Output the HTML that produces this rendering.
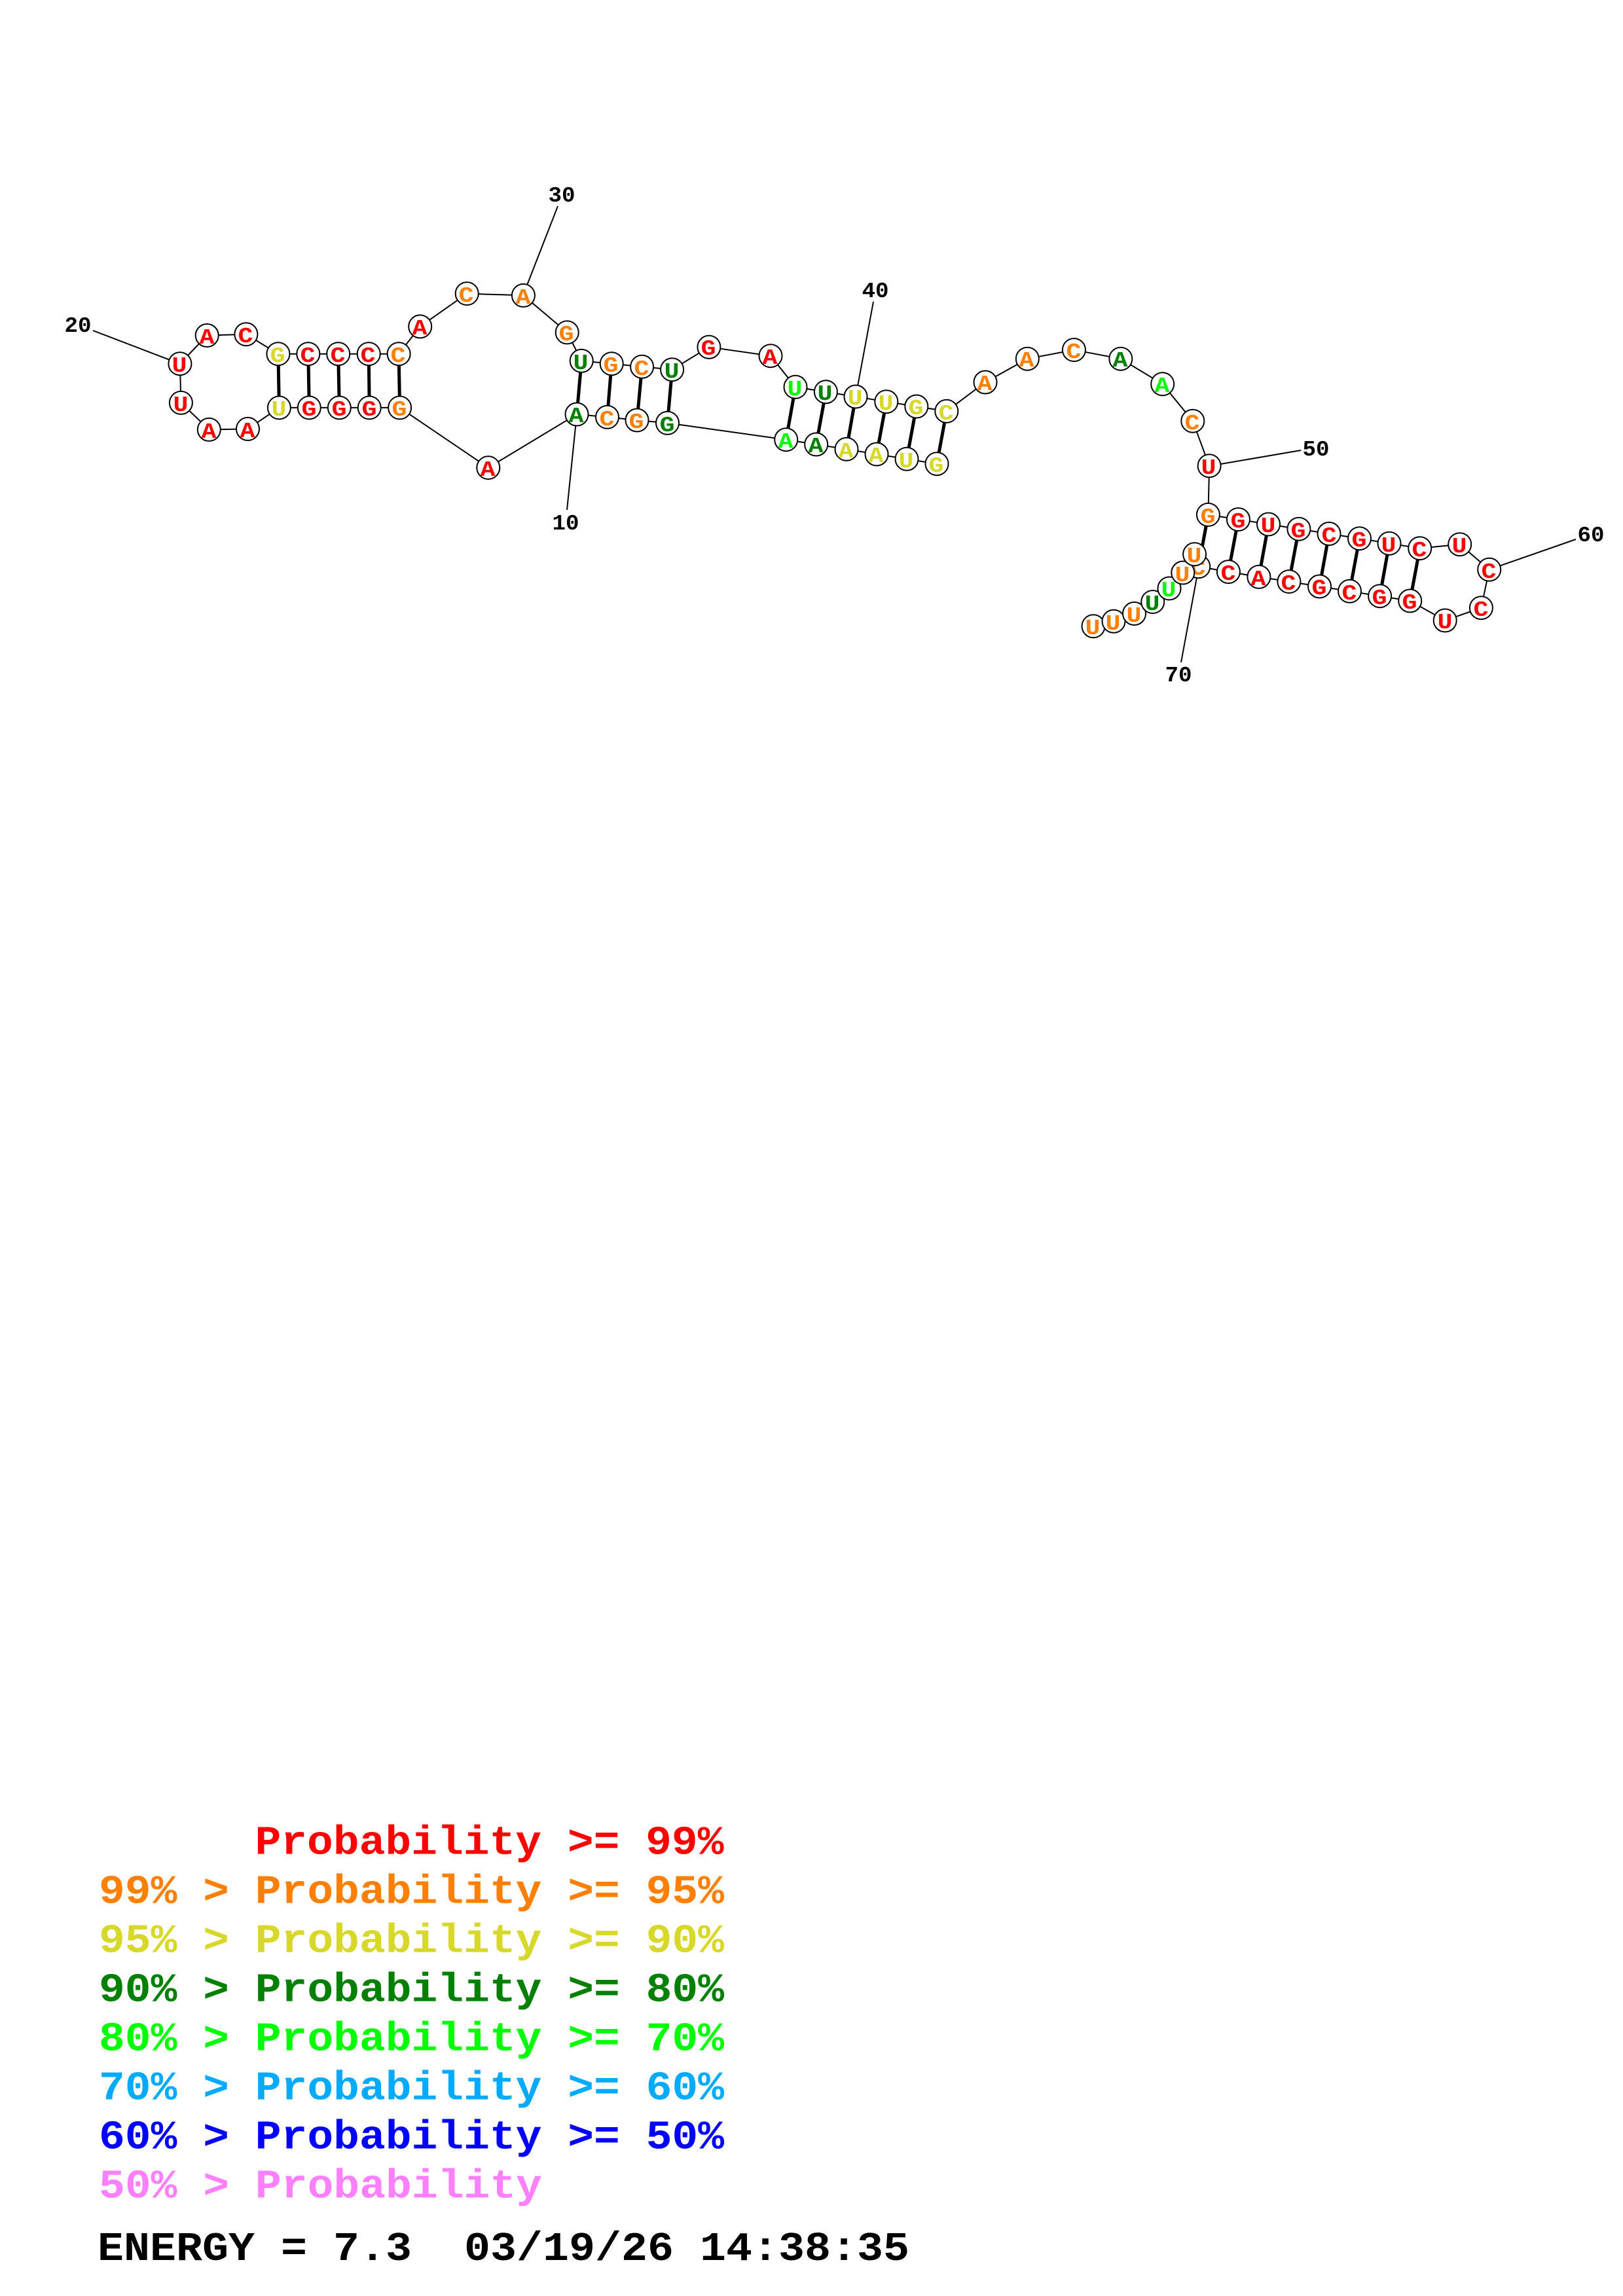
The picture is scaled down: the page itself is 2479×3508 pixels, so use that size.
<!DOCTYPE html>
<html><head><meta charset="utf-8"><title>RNA structure</title>
<style>
html,body{margin:0;padding:0;background:#fff}
svg{display:block}
.n text{font:bold 33px "Liberation Mono",monospace;text-anchor:middle}
.n circle{fill:#fff;stroke:#000;stroke-width:2}
.l{font:bold 33px "Liberation Mono",monospace;text-anchor:middle;fill:#000}
.t{font:bold 62px "Liberation Mono",monospace;white-space:pre}
.r{fill:#f00}.o{fill:#ff8000}.y{fill:#d8d82a}.g{fill:#008000}.c{fill:#00aaff}.b{fill:#00f}.p{fill:#ff80ff}.v{fill:#0f0}
.k line{stroke:#000;stroke-width:5}
.j line{stroke:#000;stroke-width:2}
</style></head><body>
<svg xmlns="http://www.w3.org/2000/svg" width="2479" height="3508" viewBox="0 0 2479 3508">
<rect width="2479" height="3508" fill="#fff"/>
<g class="j">
<line x1="142" y1="505" x2="275" y2="556"/>
<line x1="852" y1="315" x2="799" y2="451"/>
<line x1="866" y1="779" x2="881" y2="633"/>
<line x1="1334" y1="461" x2="1307" y2="606"/>
<line x1="1987" y1="688" x2="1847" y2="712"/>
<line x1="2407" y1="824" x2="2275" y2="870"/>
<line x1="1804" y1="1012" x2="1831" y2="866"/>
</g>
<polyline fill="none" stroke="#000" stroke-width="2" points="1431,708.7 1385,701.3 1339,694 1293,686.3 1246.7,679 1200.7,671.7 1019.5,646.3 973,642 927.5,637.3 881,633 745.8,714.6 610.6,622.9 564.2,622.9 518.3,622.9 472.3,622.9 426.4,622.9 378.5,655.4 319.3,656.4 276.4,615.4 274.9,555.7 316.2,512.5 375.9,510.7 424.9,540.7 470.8,540.7 516.7,540.7 563.2,540.7 609.1,540.7 641.7,498.9 713.2,448.6 799.4,451.4 866.2,507.9 888.2,551.3 934.2,555.7 980.6,560.3 1026.6,564.7 1082.9,530.3 1177,543.7 1215,591.3 1261.4,598.7 1307,606 1353.8,613.7 1399.8,621 1445.8,628.3 1505,584 1569.3,548.2 1640.4,534.6 1711.8,548.2 1775.7,586.8 1821.8,643.2 1847.1,711.8 1845.4,786.4 1891.4,793.6 1937.5,801 1983.9,808.2 2030,815.5 2076.5,822.7 2122,830.3 2168.7,837.7 2229.7,831.7 2274.7,870.3 2262.4,928.7 2207.2,948 2153.7,918 2107.6,910.7 2061.5,903.3 2015.5,896 1968.9,888.6 1922.9,881.4 1876.4,873.6 1830.7,865.7 1824.6,846.8 1806.8,875 1786,899 1760.7,919.6 1732.5,937.5 1701,949.3 1670,956.8"/>
<g class="k">
<line x1="1431" y1="708.7" x2="1445.8" y2="628.3"/>
<line x1="1385" y1="701.3" x2="1399.8" y2="621"/>
<line x1="1339" y1="694" x2="1353.8" y2="613.7"/>
<line x1="1293" y1="686.3" x2="1307" y2="606"/>
<line x1="1246.7" y1="679" x2="1261.4" y2="598.7"/>
<line x1="1200.7" y1="671.7" x2="1215" y2="591.3"/>
<line x1="1019.5" y1="646.3" x2="1026.6" y2="564.7"/>
<line x1="973" y1="642" x2="980.6" y2="560.3"/>
<line x1="927.5" y1="637.3" x2="934.2" y2="555.7"/>
<line x1="881" y1="633" x2="888.2" y2="551.3"/>
<line x1="610.6" y1="622.9" x2="609.1" y2="540.7"/>
<line x1="564.2" y1="622.9" x2="563.2" y2="540.7"/>
<line x1="518.3" y1="622.9" x2="516.7" y2="540.7"/>
<line x1="472.3" y1="622.9" x2="470.8" y2="540.7"/>
<line x1="426.4" y1="622.9" x2="424.9" y2="540.7"/>
<line x1="1845.4" y1="786.4" x2="1830.7" y2="865.7"/>
<line x1="1891.4" y1="793.6" x2="1876.4" y2="873.6"/>
<line x1="1937.5" y1="801" x2="1922.9" y2="881.4"/>
<line x1="1983.9" y1="808.2" x2="1968.9" y2="888.6"/>
<line x1="2030" y1="815.5" x2="2015.5" y2="896"/>
<line x1="2076.5" y1="822.7" x2="2061.5" y2="903.3"/>
<line x1="2122" y1="830.3" x2="2107.6" y2="910.7"/>
<line x1="2168.7" y1="837.7" x2="2153.7" y2="918"/>
</g>
<g class="n">
<circle cx="1431" cy="708.7" r="17.5"/><text textLength="23" lengthAdjust="spacingAndGlyphs" x="1430" y="721" class="y">G</text>
<circle cx="1385" cy="701.3" r="17.5"/><text textLength="23" lengthAdjust="spacingAndGlyphs" x="1384" y="714" class="y">U</text>
<circle cx="1339" cy="694" r="17.5"/><text textLength="23" lengthAdjust="spacingAndGlyphs" x="1338" y="706" class="y">A</text>
<circle cx="1293" cy="686.3" r="17.5"/><text textLength="23" lengthAdjust="spacingAndGlyphs" x="1292" y="699" class="y">A</text>
<circle cx="1246.7" cy="679" r="17.5"/><text textLength="23" lengthAdjust="spacingAndGlyphs" x="1246" y="691" class="g">A</text>
<circle cx="1200.7" cy="671.7" r="17.5"/><text textLength="23" lengthAdjust="spacingAndGlyphs" x="1200" y="684" class="v">A</text>
<circle cx="1019.5" cy="646.3" r="17.5"/><text textLength="23" lengthAdjust="spacingAndGlyphs" x="1019" y="659" class="g">G</text>
<circle cx="973" cy="642" r="17.5"/><text textLength="23" lengthAdjust="spacingAndGlyphs" x="972" y="654" class="o">G</text>
<circle cx="927.5" cy="637.3" r="17.5"/><text textLength="23" lengthAdjust="spacingAndGlyphs" x="927" y="650" class="o">C</text>
<circle cx="881" cy="633" r="17.5"/><text textLength="23" lengthAdjust="spacingAndGlyphs" x="880" y="645" class="g">A</text>
<circle cx="745.8" cy="714.6" r="17.5"/><text textLength="23" lengthAdjust="spacingAndGlyphs" x="745" y="727" class="r">A</text>
<circle cx="610.6" cy="622.9" r="17.5"/><text textLength="23" lengthAdjust="spacingAndGlyphs" x="610" y="635" class="o">G</text>
<circle cx="564.2" cy="622.9" r="17.5"/><text textLength="23" lengthAdjust="spacingAndGlyphs" x="564" y="635" class="r">G</text>
<circle cx="518.3" cy="622.9" r="17.5"/><text textLength="23" lengthAdjust="spacingAndGlyphs" x="518" y="635" class="r">G</text>
<circle cx="472.3" cy="622.9" r="17.5"/><text textLength="23" lengthAdjust="spacingAndGlyphs" x="472" y="635" class="r">G</text>
<circle cx="426.4" cy="622.9" r="17.5"/><text textLength="23" lengthAdjust="spacingAndGlyphs" x="426" y="635" class="y">U</text>
<circle cx="378.5" cy="655.4" r="17.5"/><text textLength="23" lengthAdjust="spacingAndGlyphs" x="378" y="668" class="r">A</text>
<circle cx="319.3" cy="656.4" r="17.5"/><text textLength="23" lengthAdjust="spacingAndGlyphs" x="319" y="669" class="r">A</text>
<circle cx="276.4" cy="615.4" r="17.5"/><text textLength="23" lengthAdjust="spacingAndGlyphs" x="276" y="628" class="r">U</text>
<circle cx="274.9" cy="555.7" r="17.5"/><text textLength="23" lengthAdjust="spacingAndGlyphs" x="274" y="568" class="r">U</text>
<circle cx="316.2" cy="512.5" r="17.5"/><text textLength="23" lengthAdjust="spacingAndGlyphs" x="316" y="525" class="r">A</text>
<circle cx="375.9" cy="510.7" r="17.5"/><text textLength="23" lengthAdjust="spacingAndGlyphs" x="375" y="523" class="r">C</text>
<circle cx="424.9" cy="540.7" r="17.5"/><text textLength="23" lengthAdjust="spacingAndGlyphs" x="424" y="553" class="y">G</text>
<circle cx="470.8" cy="540.7" r="17.5"/><text textLength="23" lengthAdjust="spacingAndGlyphs" x="470" y="553" class="r">C</text>
<circle cx="516.7" cy="540.7" r="17.5"/><text textLength="23" lengthAdjust="spacingAndGlyphs" x="516" y="553" class="r">C</text>
<circle cx="563.2" cy="540.7" r="17.5"/><text textLength="23" lengthAdjust="spacingAndGlyphs" x="562" y="553" class="r">C</text>
<circle cx="609.1" cy="540.7" r="17.5"/><text textLength="23" lengthAdjust="spacingAndGlyphs" x="608" y="553" class="o">C</text>
<circle cx="641.7" cy="498.9" r="17.5"/><text textLength="23" lengthAdjust="spacingAndGlyphs" x="641" y="511" class="r">A</text>
<circle cx="713.2" cy="448.6" r="17.5"/><text textLength="23" lengthAdjust="spacingAndGlyphs" x="712" y="461" class="o">C</text>
<circle cx="799.4" cy="451.4" r="17.5"/><text textLength="23" lengthAdjust="spacingAndGlyphs" x="799" y="464" class="o">A</text>
<circle cx="866.2" cy="507.9" r="17.5"/><text textLength="23" lengthAdjust="spacingAndGlyphs" x="865" y="520" class="o">G</text>
<circle cx="888.2" cy="551.3" r="17.5"/><text textLength="23" lengthAdjust="spacingAndGlyphs" x="887" y="564" class="g">U</text>
<circle cx="934.2" cy="555.7" r="17.5"/><text textLength="23" lengthAdjust="spacingAndGlyphs" x="933" y="568" class="o">G</text>
<circle cx="980.6" cy="560.3" r="17.5"/><text textLength="23" lengthAdjust="spacingAndGlyphs" x="980" y="573" class="o">C</text>
<circle cx="1026.6" cy="564.7" r="17.5"/><text textLength="23" lengthAdjust="spacingAndGlyphs" x="1026" y="577" class="g">U</text>
<circle cx="1082.9" cy="530.3" r="17.5"/><text textLength="23" lengthAdjust="spacingAndGlyphs" x="1082" y="542" class="r">G</text>
<circle cx="1177" cy="543.7" r="17.5"/><text textLength="23" lengthAdjust="spacingAndGlyphs" x="1176" y="556" class="r">A</text>
<circle cx="1215" cy="591.3" r="17.5"/><text textLength="23" lengthAdjust="spacingAndGlyphs" x="1214" y="604" class="v">U</text>
<circle cx="1261.4" cy="598.7" r="17.5"/><text textLength="23" lengthAdjust="spacingAndGlyphs" x="1260" y="611" class="g">U</text>
<circle cx="1307" cy="606" r="17.5"/><text textLength="23" lengthAdjust="spacingAndGlyphs" x="1306" y="618" class="y">U</text>
<circle cx="1353.8" cy="613.7" r="17.5"/><text textLength="23" lengthAdjust="spacingAndGlyphs" x="1353" y="626" class="y">U</text>
<circle cx="1399.8" cy="621" r="17.5"/><text textLength="23" lengthAdjust="spacingAndGlyphs" x="1399" y="633" class="y">G</text>
<circle cx="1445.8" cy="628.3" r="17.5"/><text textLength="23" lengthAdjust="spacingAndGlyphs" x="1445" y="641" class="y">C</text>
<circle cx="1505" cy="584" r="17.5"/><text textLength="23" lengthAdjust="spacingAndGlyphs" x="1504" y="596" class="o">A</text>
<circle cx="1569.3" cy="548.2" r="17.5"/><text textLength="23" lengthAdjust="spacingAndGlyphs" x="1568" y="560" class="o">A</text>
<circle cx="1640.4" cy="534.6" r="17.5"/><text textLength="23" lengthAdjust="spacingAndGlyphs" x="1640" y="547" class="o">C</text>
<circle cx="1711.8" cy="548.2" r="17.5"/><text textLength="23" lengthAdjust="spacingAndGlyphs" x="1711" y="560" class="g">A</text>
<circle cx="1775.7" cy="586.8" r="17.5"/><text textLength="23" lengthAdjust="spacingAndGlyphs" x="1775" y="599" class="v">A</text>
<circle cx="1821.8" cy="643.2" r="17.5"/><text textLength="23" lengthAdjust="spacingAndGlyphs" x="1821" y="656" class="o">C</text>
<circle cx="1847.1" cy="711.8" r="17.5"/><text textLength="23" lengthAdjust="spacingAndGlyphs" x="1846" y="724" class="r">U</text>
<circle cx="1845.4" cy="786.4" r="17.5"/><text textLength="23" lengthAdjust="spacingAndGlyphs" x="1845" y="799" class="o">G</text>
<circle cx="1891.4" cy="793.6" r="17.5"/><text textLength="23" lengthAdjust="spacingAndGlyphs" x="1891" y="806" class="r">G</text>
<circle cx="1937.5" cy="801" r="17.5"/><text textLength="23" lengthAdjust="spacingAndGlyphs" x="1937" y="813" class="r">U</text>
<circle cx="1983.9" cy="808.2" r="17.5"/><text textLength="23" lengthAdjust="spacingAndGlyphs" x="1983" y="821" class="r">G</text>
<circle cx="2030" cy="815.5" r="17.5"/><text textLength="23" lengthAdjust="spacingAndGlyphs" x="2030" y="828" class="r">C</text>
<circle cx="2076.5" cy="822.7" r="17.5"/><text textLength="23" lengthAdjust="spacingAndGlyphs" x="2076" y="835" class="r">G</text>
<circle cx="2122" cy="830.3" r="17.5"/><text textLength="23" lengthAdjust="spacingAndGlyphs" x="2121" y="843" class="r">U</text>
<circle cx="2168.7" cy="837.7" r="17.5"/><text textLength="23" lengthAdjust="spacingAndGlyphs" x="2168" y="850" class="r">C</text>
<circle cx="2229.7" cy="831.7" r="17.5"/><text textLength="23" lengthAdjust="spacingAndGlyphs" x="2229" y="844" class="r">U</text>
<circle cx="2274.7" cy="870.3" r="17.5"/><text textLength="23" lengthAdjust="spacingAndGlyphs" x="2274" y="883" class="r">C</text>
<circle cx="2262.4" cy="928.7" r="17.5"/><text textLength="23" lengthAdjust="spacingAndGlyphs" x="2262" y="941" class="r">C</text>
<circle cx="2207.2" cy="948" r="17.5"/><text textLength="23" lengthAdjust="spacingAndGlyphs" x="2207" y="960" class="r">U</text>
<circle cx="2153.7" cy="918" r="17.5"/><text textLength="23" lengthAdjust="spacingAndGlyphs" x="2153" y="930" class="r">G</text>
<circle cx="2107.6" cy="910.7" r="17.5"/><text textLength="23" lengthAdjust="spacingAndGlyphs" x="2107" y="923" class="r">G</text>
<circle cx="2061.5" cy="903.3" r="17.5"/><text textLength="23" lengthAdjust="spacingAndGlyphs" x="2061" y="916" class="r">C</text>
<circle cx="2015.5" cy="896" r="17.5"/><text textLength="23" lengthAdjust="spacingAndGlyphs" x="2015" y="908" class="r">G</text>
<circle cx="1968.9" cy="888.6" r="17.5"/><text textLength="23" lengthAdjust="spacingAndGlyphs" x="1968" y="901" class="r">C</text>
<circle cx="1922.9" cy="881.4" r="17.5"/><text textLength="23" lengthAdjust="spacingAndGlyphs" x="1922" y="894" class="r">A</text>
<circle cx="1876.4" cy="873.6" r="17.5"/><text textLength="23" lengthAdjust="spacingAndGlyphs" x="1876" y="886" class="r">C</text>
<circle cx="1830.7" cy="865.7" r="17.5"/><text textLength="23" lengthAdjust="spacingAndGlyphs" x="1830" y="878" class="o">C</text>
<circle cx="1670" cy="956.8" r="17.5"/><text textLength="23" lengthAdjust="spacingAndGlyphs" x="1669" y="969" class="o">U</text>
<circle cx="1701" cy="949.3" r="17.5"/><text textLength="23" lengthAdjust="spacingAndGlyphs" x="1700" y="962" class="o">U</text>
<circle cx="1732.5" cy="937.5" r="17.5"/><text textLength="23" lengthAdjust="spacingAndGlyphs" x="1732" y="950" class="o">U</text>
<circle cx="1760.7" cy="919.6" r="17.5"/><text textLength="23" lengthAdjust="spacingAndGlyphs" x="1760" y="932" class="g">U</text>
<circle cx="1786" cy="899" r="17.5"/><text textLength="23" lengthAdjust="spacingAndGlyphs" x="1785" y="911" class="v">U</text>
<circle cx="1806.8" cy="875" r="17.5"/><text textLength="23" lengthAdjust="spacingAndGlyphs" x="1806" y="888" class="o">U</text>
<circle cx="1824.6" cy="846.8" r="17.5"/><text textLength="23" lengthAdjust="spacingAndGlyphs" x="1824" y="859" class="o">U</text>
</g>
<text class="l" textLength="41" lengthAdjust="spacingAndGlyphs" x="119" y="507">20</text>
<text class="l" textLength="41" lengthAdjust="spacingAndGlyphs" x="858" y="308">30</text>
<text class="l" textLength="41" lengthAdjust="spacingAndGlyphs" x="864" y="809">10</text>
<text class="l" textLength="41" lengthAdjust="spacingAndGlyphs" x="1337" y="454">40</text>
<text class="l" textLength="41" lengthAdjust="spacingAndGlyphs" x="2010" y="696">50</text>
<text class="l" textLength="41" lengthAdjust="spacingAndGlyphs" x="2430" y="827">60</text>
<text class="l" textLength="41" lengthAdjust="spacingAndGlyphs" x="1800" y="1041">70</text>
<text class="t r" textLength="716" lengthAdjust="spacingAndGlyphs" x="389.5" y="2832.7">Probability &gt;= 99%</text>
<text class="t o" textLength="955" lengthAdjust="spacingAndGlyphs" x="151" y="2907.7">99% &gt; Probability &gt;= 95%</text>
<text class="t y" textLength="955" lengthAdjust="spacingAndGlyphs" x="151" y="2982.7">95% &gt; Probability &gt;= 90%</text>
<text class="t g" textLength="955" lengthAdjust="spacingAndGlyphs" x="151" y="3057.7">90% &gt; Probability &gt;= 80%</text>
<text class="t v" textLength="955" lengthAdjust="spacingAndGlyphs" x="151" y="3132.7">80% &gt; Probability &gt;= 70%</text>
<text class="t c" textLength="955" lengthAdjust="spacingAndGlyphs" x="151" y="3207.7">70% &gt; Probability &gt;= 60%</text>
<text class="t b" textLength="955" lengthAdjust="spacingAndGlyphs" x="151" y="3282.7">60% &gt; Probability &gt;= 50%</text>
<text class="t p" textLength="677" lengthAdjust="spacingAndGlyphs" x="151" y="3357.7">50% &gt; Probability</text>
<text class="t" textLength="1240" lengthAdjust="spacingAndGlyphs" x="149" y="3453" fill="#000">ENERGY = 7.3  03/19/26 14:38:35</text>
</svg>
</body></html>
